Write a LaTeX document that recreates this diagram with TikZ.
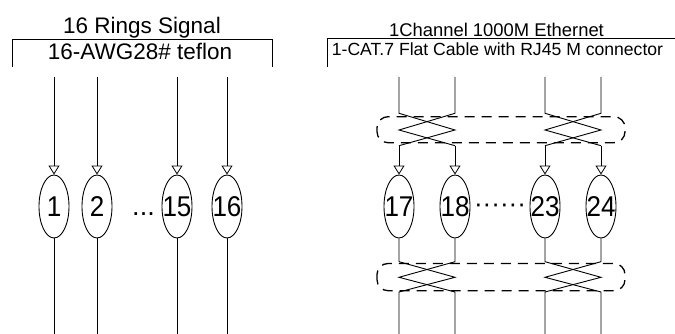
\documentclass[tikz,border=0pt]{standalone}
\usepackage{fontspec}
\setmainfont{Liberation Sans}
\usetikzlibrary{arrows.meta,shapes.geometric}
\newcommand{\ringtext}[1]{\makebox[0pt]{\scalebox{1}[1.1]{#1}}}
\begin{document}
\begin{tikzpicture}[x=1pt,y=-1pt,
  wire/.style={line width=0.9pt},
  arrowwire/.style={wire,-{Triangle[open,width=11pt,length=9pt,line width=0.8pt]}},
  ring/.style={draw,ellipse,line width=0.9pt,minimum width=30pt,minimum height=63pt,inner sep=0pt,
    font=\fontsize{26}{26}\selectfont},
  twistbox/.style={line width=1.3pt,dash pattern=on 10pt off 7pt,rounded corners=11pt},
  bigtitle/.style={anchor=base,inner sep=0pt,font=\fontsize{22.5}{24}\selectfont},
  smalltitle/.style={anchor=base,inner sep=0pt,font=\fontsize{18.4}{20}\selectfont},
  smallertitle/.style={anchor=base,inner sep=0pt,font=\fontsize{17.6}{20}\selectfont},
]
\useasboundingbox (0,0) rectangle (675,334);

% ---------- left group ----------
\node[bigtitle] (ltitle) at (142,33.3) {16 Rings Signal};
\node[bigtitle] (lsub) at (140,60) {16-AWG28\# teflon};
\draw[wire] (12,67) -- (12,39) -- (272,39) -- (272,67);

\foreach \n/\x in {1/54,2/97,15/177,16/227}{
  \node[ring] (e\n) at (\x,206.5) {\ringtext{\n}};
  \coordinate (wt\n) at (\x,77);
  \coordinate (wb\n) at (\x,334);
  \draw[arrowwire] (wt\n) -- (e\n.north);
  \draw[wire] (e\n.south) -- (wb\n);
}
\node[anchor=base,inner sep=0pt,font=\fontsize{27}{27}\selectfont] (ldots) at (143.5,215.5) {...};

% ---------- right group ----------
\node[smalltitle] (rtitle) at (496.5,36.7) {1Channel 1000M Ethernet};
\node[smallertitle] (rsub) at (497.5,55.7) {1-CAT.7 Flat Cable with RJ45 M connector};
\draw[wire] (327,67) -- (327,38.5) -- (675,38.5);

\draw[twistbox] (377,116.7) rectangle (625,142.7);
\draw[twistbox] (377,263.5) rectangle (625,290.7);

\foreach \n/\x in {17/399,18/455,23/545,24/601}{
  \node[ring] (e\n) at (\x,206.5) {\ringtext{\n}};
}
\node[inner sep=0pt,font=\fontsize{26}{26}\selectfont] (rdots) at (500,208) {······};

\foreach \a/\b/\L/\R in {17/18/399/455,23/24/545/601}{
  % top wires
  \coordinate (ta\a) at (\L,77);
  \coordinate (ta\b) at (\R,77);
  \coordinate (tu\a) at (\L,113.3);
  \coordinate (tu\b) at (\R,113.3);
  \coordinate (tm\a) at (\L,130);
  \coordinate (tm\b) at (\R,130);
  \coordinate (td\a) at (\L,145.7);
  \coordinate (td\b) at (\R,145.7);
  \draw[wire] (ta\a) -- (tu\a) -- (tm\b) -- (td\a);
  \draw[wire] (ta\b) -- (tu\b) -- (tm\a) -- (td\b);
  \draw[arrowwire] (td\a) -- (e\a.north);
  \draw[arrowwire] (td\b) -- (e\b.north);
  % bottom wires
  \coordinate (bu\a) at (\L,261.7);
  \coordinate (bu\b) at (\R,261.7);
  \coordinate (bm\a) at (\L,277.3);
  \coordinate (bm\b) at (\R,277.3);
  \coordinate (bd\a) at (\L,292);
  \coordinate (bd\b) at (\R,292);
  \coordinate (bz\a) at (\L,334);
  \coordinate (bz\b) at (\R,334);
  \draw[wire] (e\a.south) -- (bu\a) -- (bm\b) -- (bd\a) -- (bz\a);
  \draw[wire] (e\b.south) -- (bu\b) -- (bm\a) -- (bd\b) -- (bz\b);
}
\end{tikzpicture}
\end{document}
